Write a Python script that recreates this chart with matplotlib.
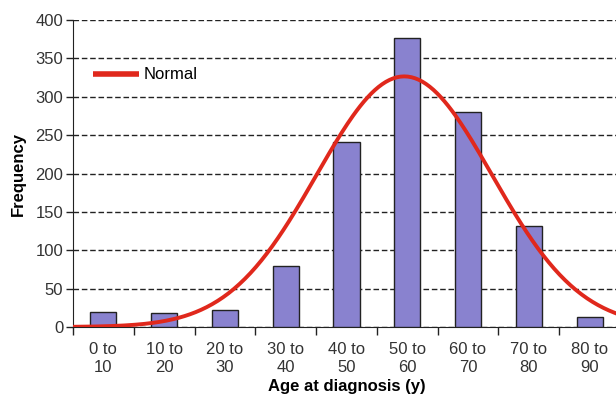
import matplotlib.pyplot as plt
import numpy as np

plt.rcParams['font.family'] = ['Liberation Sans', 'DejaVu Sans']

# Age bins and case counts
age_bins = ["0 to\n10", "10 to\n20", "20 to\n30", "30 to\n40", "40 to\n50",
            "50 to\n60", "60 to\n70", "70 to\n80", "80 to\n90"]
bin_lower = [0, 10, 20, 30, 40, 50, 60, 70, 80]
bin_width = 10
counts = [20, 18, 22, 80, 241, 377, 280, 131, 13]

# Normal fit from the binned data
mids = np.array(bin_lower) + bin_width / 2
freq = np.array(counts)
n_total = freq.sum()
mu = (mids * freq).sum() / n_total
sigma = np.sqrt((freq * (mids - mu) ** 2).sum() / n_total)
age = np.linspace(0, 90, 300)
normal = n_total * bin_width * np.exp(-0.5 * ((age - mu) / sigma) ** 2) / (sigma * np.sqrt(2 * np.pi))

fig = plt.figure(figsize=(6.16, 3.98), dpi=100)
ax = fig.add_axes([73 / 616, 71 / 398, 547 / 616, 307 / 398])

x = np.arange(len(counts))
ax.bar(x, counts, width=0.43, color="#8982cf", edgecolor="#222222", linewidth=1.0, zorder=3)

# curve plotted in bin-position units
ax.plot(age / bin_width - 0.5, normal, color="#e0281c", linewidth=2.8, zorder=4,
        solid_capstyle="butt", label="Normal")

ax.set_xlim(-0.5, 8.5)
ax.set_ylim(0, 400)
ax.set_yticks(np.arange(0, 401, 50))
ax.yaxis.grid(True, linestyle=(0, (4, 2)), color="#222222", linewidth=1.0, zorder=0)
ax.set_axisbelow(True)

ax.set_xticks(x)
ax.set_xticklabels(age_bins, fontsize=12, color="#333333", linespacing=1.25)
ax.set_xticks(np.arange(-0.5, 9.0, 1.0), minor=True)
ax.tick_params(axis="x", which="major", length=0, pad=11)
ax.tick_params(axis="x", which="minor", length=6, width=1.0, direction="out", color="#222222")
ax.tick_params(axis="y", length=5, width=1.0, direction="out", color="#222222",
               labelsize=12, labelcolor="#333333", pad=2)

for side in ("top", "right"):
    ax.spines[side].set_visible(False)
ax.spines["left"].set_color("#222222")
ax.spines["bottom"].set_color("#222222")

ax.set_ylabel("Frequency", fontsize=12, fontweight="bold", labelpad=7)
ax.set_xlabel("Age at diagnosis (y)", fontsize=12, fontweight="bold", labelpad=3)

leg = ax.legend(loc="center left", bbox_to_anchor=(0.036, 0.821), frameon=False, fontsize=12,
                handlelength=2.75, handletextpad=0.3, borderpad=0, borderaxespad=0)
leg.get_lines()[0].set_linewidth(4.0)

fig.savefig("out.png", dpi=100)
